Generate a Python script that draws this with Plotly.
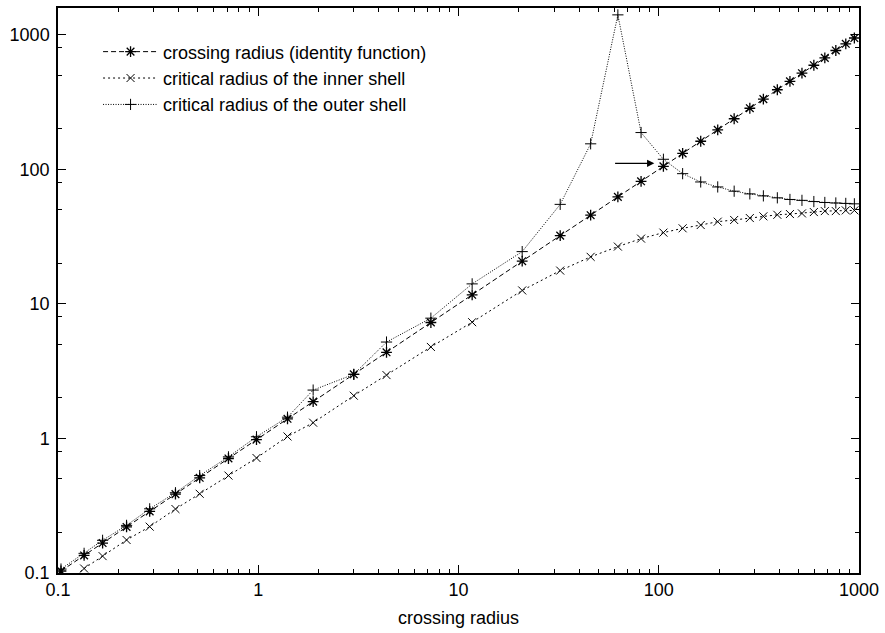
import math
import plotly.graph_objects as go

# crossing radius samples (x) — identity function y = x
crossing_radius = [0.1035, 0.135, 0.167, 0.22, 0.287, 0.386, 0.51, 0.71, 0.98, 1.4,
                   1.88, 3.0, 4.37, 7.28, 11.7, 20.8, 32.2, 45.7, 62.5, 81.6,
                   105.5, 131.6, 162, 197, 238, 285, 333, 391, 452, 519,
                   595, 675, 766, 859, 948]
identity_values = list(crossing_radius)

inner_shell = [0.078, 0.108, 0.1335, 0.176, 0.221, 0.299, 0.388, 0.53, 0.716, 1.035,
               1.31, 2.08, 2.96, 4.79, 7.32, 12.6, 17.7, 22.4, 26.7, 30.6,
               33.9, 36.5, 38.6, 40.9, 42.1, 43.5, 44.8, 46.0, 46.6, 47.1,
               48.2, 49.0, 49.0, 49.6, 49.6]

outer_shell = [0.107, 0.14, 0.175, 0.226, 0.3, 0.395, 0.53, 0.73, 1.03, 1.44,
               2.29, 3.0, 5.21, 7.84, 14.1, 24.5, 55, 155, 1409, 188,
               119, 93, 80.7, 74.1, 68.9, 65.8, 63.6, 61.5, 59.8, 58.9,
               57.7, 56.8, 56.3, 55.9, 55.5]

series_names = ["crossing radius (identity function)",
                "critical radius of the inner shell",
                "critical radius of the outer shell"]

major_ticks = [0.1, 1, 10, 100, 1000]
major_labels = ["0.1", "1", "10", "100", "1000"]
x_minor = [k * 10 ** n for n in range(-1, 3) for k in range(2, 10)]
y_minor = [k * 10 ** n for n in range(-1, 3) for k in (2, 5, 8)]

# arrow pointing at the crossing point
arrow_x_start, arrow_x_end, arrow_y = 59.5, 95.0, 111.0

FONT = "Liberation Sans, Arial, Helvetica, sans-serif"
FS = 18

fig = go.Figure()
fig.add_trace(go.Scatter(
    x=crossing_radius, y=identity_values, mode="lines+markers", name=series_names[0],
    line=dict(color="black", width=1, dash="5px,3px"),
    marker=dict(symbol="asterisk-open", size=9, color="black", line=dict(color="black", width=1.3)),
))
fig.add_trace(go.Scatter(
    x=crossing_radius, y=inner_shell, mode="lines+markers", name=series_names[1],
    line=dict(color="black", width=1, dash="2px,3px"),
    marker=dict(symbol="x-thin-open", size=8, color="black", line=dict(color="black", width=1)),
))
fig.add_trace(go.Scatter(
    x=crossing_radius, y=outer_shell, mode="lines+markers", name=series_names[2],
    line=dict(color="black", width=1, dash="1px,1.5px"),
    marker=dict(symbol="cross-thin-open", size=8, color="black", line=dict(color="black", width=1)),
))

fig.add_annotation(
    x=math.log10(arrow_x_end), y=math.log10(arrow_y),
    ax=math.log10(arrow_x_start), ay=math.log10(arrow_y),
    xref="x", yref="y", axref="x", ayref="y",
    showarrow=True, arrowhead=2, arrowsize=1.2, arrowwidth=1.2, arrowcolor="black", text="",
)

axis_common = dict(
    type="log", showline=True, linecolor="black", linewidth=1.5, mirror="allticks",
    ticks="inside", ticklen=8, tickwidth=1, tickcolor="black",
    tickmode="array", tickvals=major_ticks, ticktext=major_labels,
    showgrid=False, zeroline=False,
    tickfont=dict(family=FONT, size=FS, color="black"),
)

fig.update_xaxes(
    **axis_common, range=[-1, 3],
    minor=dict(tickmode="array", tickvals=x_minor, ticks="inside", ticklen=4,
               tickwidth=1, tickcolor="black", showgrid=False),
    title=dict(text="crossing radius", font=dict(family=FONT, size=FS, color="black"), standoff=12),
)
fig.update_yaxes(
    **axis_common, range=[-1, 3.2], ticklabelstandoff=3,
    minor=dict(tickmode="array", tickvals=y_minor, ticks="inside", ticklen=4,
               tickwidth=1, tickcolor="black", showgrid=False),
)

fig.update_layout(
    width=885, height=633,
    margin=dict(l=58, r=22, t=6, b=60),
    plot_bgcolor="white", paper_bgcolor="white",
    font=dict(family=FONT, size=FS, color="black"),
    legend=dict(x=0.05, y=0.955, xanchor="left", yanchor="top",
                bgcolor="rgba(0,0,0,0)", borderwidth=0,
                font=dict(family=FONT, size=FS, color="black"),
                itemwidth=55, tracegroupgap=0),
    showlegend=True,
)

fig.write_html("out.html")
